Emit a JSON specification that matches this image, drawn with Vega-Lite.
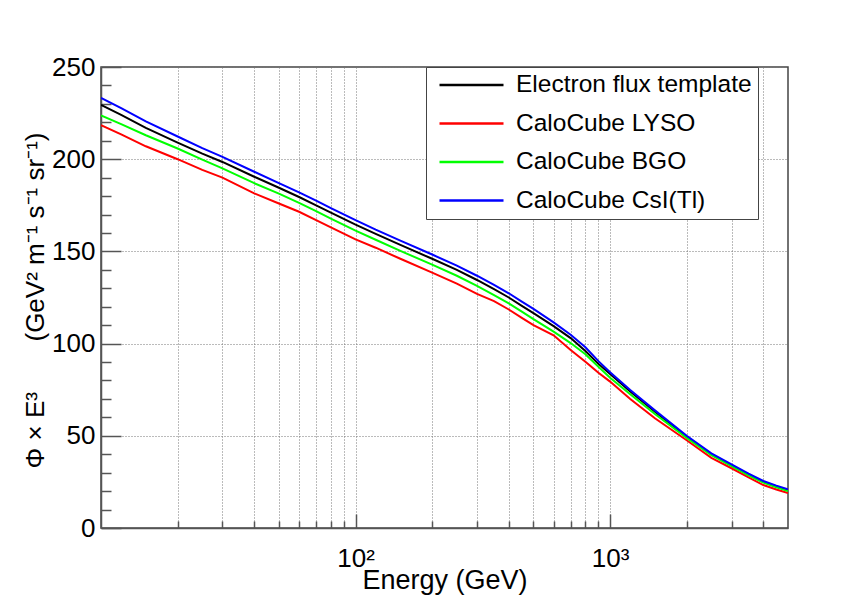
{
  "$schema": "https://vega.github.io/schema/vega-lite/v6.json",
  "width": 687,
  "height": 461,
  "autosize": {"type": "none"},
  "padding": {"left": 101, "top": 67, "right": 76, "bottom": 67},
  "background": "white",
  "datasets": {
    "flux": [
      {"E": 10, "flux": 229.5, "series": "Electron flux template"},
      {"E": 12, "flux": 224, "series": "Electron flux template"},
      {"E": 15, "flux": 217, "series": "Electron flux template"},
      {"E": 20, "flux": 209, "series": "Electron flux template"},
      {"E": 25, "flux": 203, "series": "Electron flux template"},
      {"E": 30, "flux": 198.5, "series": "Electron flux template"},
      {"E": 40, "flux": 190.5, "series": "Electron flux template"},
      {"E": 50, "flux": 184.5, "series": "Electron flux template"},
      {"E": 60, "flux": 179.5, "series": "Electron flux template"},
      {"E": 70, "flux": 175, "series": "Electron flux template"},
      {"E": 80, "flux": 171, "series": "Electron flux template"},
      {"E": 100, "flux": 164.5, "series": "Electron flux template"},
      {"E": 120, "flux": 159.5, "series": "Electron flux template"},
      {"E": 150, "flux": 153.5, "series": "Electron flux template"},
      {"E": 200, "flux": 146, "series": "Electron flux template"},
      {"E": 250, "flux": 140, "series": "Electron flux template"},
      {"E": 300, "flux": 134.5, "series": "Electron flux template"},
      {"E": 350, "flux": 129.5, "series": "Electron flux template"},
      {"E": 400, "flux": 125, "series": "Electron flux template"},
      {"E": 450, "flux": 120.5, "series": "Electron flux template"},
      {"E": 500, "flux": 116.5, "series": "Electron flux template"},
      {"E": 600, "flux": 109.5, "series": "Electron flux template"},
      {"E": 700, "flux": 103, "series": "Electron flux template"},
      {"E": 800, "flux": 96, "series": "Electron flux template"},
      {"E": 900, "flux": 89, "series": "Electron flux template"},
      {"E": 1000, "flux": 83.5, "series": "Electron flux template"},
      {"E": 1200, "flux": 74, "series": "Electron flux template"},
      {"E": 1500, "flux": 63, "series": "Electron flux template"},
      {"E": 2000, "flux": 49.5, "series": "Electron flux template"},
      {"E": 2500, "flux": 40, "series": "Electron flux template"},
      {"E": 3000, "flux": 34, "series": "Electron flux template"},
      {"E": 3500, "flux": 29, "series": "Electron flux template"},
      {"E": 4000, "flux": 25, "series": "Electron flux template"},
      {"E": 4500, "flux": 22.5, "series": "Electron flux template"},
      {"E": 5000, "flux": 20.5, "series": "Electron flux template"},

      {"E": 10, "flux": 218.4, "series": "CaloCube LYSO"},
      {"E": 12, "flux": 213.5, "series": "CaloCube LYSO"},
      {"E": 15, "flux": 207, "series": "CaloCube LYSO"},
      {"E": 20, "flux": 200, "series": "CaloCube LYSO"},
      {"E": 25, "flux": 194.2, "series": "CaloCube LYSO"},
      {"E": 30, "flux": 190, "series": "CaloCube LYSO"},
      {"E": 40, "flux": 181.5, "series": "CaloCube LYSO"},
      {"E": 50, "flux": 176, "series": "CaloCube LYSO"},
      {"E": 60, "flux": 171.5, "series": "CaloCube LYSO"},
      {"E": 70, "flux": 167, "series": "CaloCube LYSO"},
      {"E": 80, "flux": 163, "series": "CaloCube LYSO"},
      {"E": 100, "flux": 156.5, "series": "CaloCube LYSO"},
      {"E": 120, "flux": 152, "series": "CaloCube LYSO"},
      {"E": 150, "flux": 146, "series": "CaloCube LYSO"},
      {"E": 200, "flux": 138.5, "series": "CaloCube LYSO"},
      {"E": 250, "flux": 132.5, "series": "CaloCube LYSO"},
      {"E": 300, "flux": 127, "series": "CaloCube LYSO"},
      {"E": 350, "flux": 123, "series": "CaloCube LYSO"},
      {"E": 400, "flux": 118.5, "series": "CaloCube LYSO"},
      {"E": 450, "flux": 114, "series": "CaloCube LYSO"},
      {"E": 500, "flux": 110, "series": "CaloCube LYSO"},
      {"E": 600, "flux": 104.5, "series": "CaloCube LYSO"},
      {"E": 700, "flux": 96.5, "series": "CaloCube LYSO"},
      {"E": 800, "flux": 90.2, "series": "CaloCube LYSO"},
      {"E": 900, "flux": 84.2, "series": "CaloCube LYSO"},
      {"E": 1000, "flux": 79.4, "series": "CaloCube LYSO"},
      {"E": 1200, "flux": 70, "series": "CaloCube LYSO"},
      {"E": 1500, "flux": 59.5, "series": "CaloCube LYSO"},
      {"E": 2000, "flux": 47.6, "series": "CaloCube LYSO"},
      {"E": 2500, "flux": 38, "series": "CaloCube LYSO"},
      {"E": 3000, "flux": 32.4, "series": "CaloCube LYSO"},
      {"E": 3500, "flux": 27.4, "series": "CaloCube LYSO"},
      {"E": 4000, "flux": 23.3, "series": "CaloCube LYSO"},
      {"E": 4500, "flux": 20.9, "series": "CaloCube LYSO"},
      {"E": 5000, "flux": 18.9, "series": "CaloCube LYSO"},

      {"E": 10, "flux": 223.8, "series": "CaloCube BGO"},
      {"E": 12, "flux": 219, "series": "CaloCube BGO"},
      {"E": 15, "flux": 213, "series": "CaloCube BGO"},
      {"E": 20, "flux": 205.8, "series": "CaloCube BGO"},
      {"E": 25, "flux": 199.8, "series": "CaloCube BGO"},
      {"E": 30, "flux": 195, "series": "CaloCube BGO"},
      {"E": 40, "flux": 187, "series": "CaloCube BGO"},
      {"E": 50, "flux": 181.3, "series": "CaloCube BGO"},
      {"E": 60, "flux": 176.3, "series": "CaloCube BGO"},
      {"E": 70, "flux": 171.8, "series": "CaloCube BGO"},
      {"E": 80, "flux": 167.8, "series": "CaloCube BGO"},
      {"E": 100, "flux": 161.3, "series": "CaloCube BGO"},
      {"E": 120, "flux": 156.3, "series": "CaloCube BGO"},
      {"E": 150, "flux": 150.3, "series": "CaloCube BGO"},
      {"E": 200, "flux": 142.8, "series": "CaloCube BGO"},
      {"E": 250, "flux": 136.8, "series": "CaloCube BGO"},
      {"E": 300, "flux": 131.3, "series": "CaloCube BGO"},
      {"E": 350, "flux": 126.3, "series": "CaloCube BGO"},
      {"E": 400, "flux": 121.8, "series": "CaloCube BGO"},
      {"E": 450, "flux": 117.3, "series": "CaloCube BGO"},
      {"E": 500, "flux": 113.3, "series": "CaloCube BGO"},
      {"E": 600, "flux": 106.5, "series": "CaloCube BGO"},
      {"E": 700, "flux": 100.3, "series": "CaloCube BGO"},
      {"E": 800, "flux": 94.2, "series": "CaloCube BGO"},
      {"E": 900, "flux": 87.4, "series": "CaloCube BGO"},
      {"E": 1000, "flux": 81.5, "series": "CaloCube BGO"},
      {"E": 1200, "flux": 72.5, "series": "CaloCube BGO"},
      {"E": 1500, "flux": 61.8, "series": "CaloCube BGO"},
      {"E": 2000, "flux": 48.9, "series": "CaloCube BGO"},
      {"E": 2500, "flux": 39.5, "series": "CaloCube BGO"},
      {"E": 3000, "flux": 33.6, "series": "CaloCube BGO"},
      {"E": 3500, "flux": 28.6, "series": "CaloCube BGO"},
      {"E": 4000, "flux": 24.6, "series": "CaloCube BGO"},
      {"E": 4500, "flux": 22.1, "series": "CaloCube BGO"},
      {"E": 5000, "flux": 20.1, "series": "CaloCube BGO"},

      {"E": 10, "flux": 233.3, "series": "CaloCube CsI(Tl)"},
      {"E": 12, "flux": 227.7, "series": "CaloCube CsI(Tl)"},
      {"E": 15, "flux": 220.5, "series": "CaloCube CsI(Tl)"},
      {"E": 20, "flux": 212.3, "series": "CaloCube CsI(Tl)"},
      {"E": 25, "flux": 206, "series": "CaloCube CsI(Tl)"},
      {"E": 30, "flux": 201.3, "series": "CaloCube CsI(Tl)"},
      {"E": 40, "flux": 193.2, "series": "CaloCube CsI(Tl)"},
      {"E": 50, "flux": 187, "series": "CaloCube CsI(Tl)"},
      {"E": 60, "flux": 182, "series": "CaloCube CsI(Tl)"},
      {"E": 70, "flux": 177.5, "series": "CaloCube CsI(Tl)"},
      {"E": 80, "flux": 173.5, "series": "CaloCube CsI(Tl)"},
      {"E": 100, "flux": 167, "series": "CaloCube CsI(Tl)"},
      {"E": 120, "flux": 161.8, "series": "CaloCube CsI(Tl)"},
      {"E": 150, "flux": 155.8, "series": "CaloCube CsI(Tl)"},
      {"E": 200, "flux": 148.3, "series": "CaloCube CsI(Tl)"},
      {"E": 250, "flux": 142.3, "series": "CaloCube CsI(Tl)"},
      {"E": 300, "flux": 136.8, "series": "CaloCube CsI(Tl)"},
      {"E": 350, "flux": 131.8, "series": "CaloCube CsI(Tl)"},
      {"E": 400, "flux": 127.3, "series": "CaloCube CsI(Tl)"},
      {"E": 450, "flux": 122.8, "series": "CaloCube CsI(Tl)"},
      {"E": 500, "flux": 118.8, "series": "CaloCube CsI(Tl)"},
      {"E": 600, "flux": 111.5, "series": "CaloCube CsI(Tl)"},
      {"E": 700, "flux": 104.8, "series": "CaloCube CsI(Tl)"},
      {"E": 800, "flux": 98, "series": "CaloCube CsI(Tl)"},
      {"E": 900, "flux": 90.5, "series": "CaloCube CsI(Tl)"},
      {"E": 1000, "flux": 84.5, "series": "CaloCube CsI(Tl)"},
      {"E": 1200, "flux": 74.8, "series": "CaloCube CsI(Tl)"},
      {"E": 1500, "flux": 63.8, "series": "CaloCube CsI(Tl)"},
      {"E": 2000, "flux": 50, "series": "CaloCube CsI(Tl)"},
      {"E": 2500, "flux": 40.5, "series": "CaloCube CsI(Tl)"},
      {"E": 3000, "flux": 34.5, "series": "CaloCube CsI(Tl)"},
      {"E": 3500, "flux": 29.5, "series": "CaloCube CsI(Tl)"},
      {"E": 4000, "flux": 25.5, "series": "CaloCube CsI(Tl)"},
      {"E": 4500, "flux": 23, "series": "CaloCube CsI(Tl)"},
      {"E": 5000, "flux": 21, "series": "CaloCube CsI(Tl)"}
    ]
  },
  "data": {"name": "flux"},
  "mark": {"type": "line", "strokeWidth": 2, "clip": true},
  "encoding": {
    "x": {
      "field": "E",
      "type": "quantitative",
      "scale": {"type": "log", "domain": [10, 5000], "nice": false},
      "axis": {
        "title": "Energy (GeV)",
        "values": [20, 30, 40, 50, 60, 70, 80, 90, 100, 200, 300, 400, 500, 600, 700, 800, 900, 1000, 2000, 3000, 4000],
        "labelExpr": "datum.value == 100 ? '10²' : (datum.value == 1000 ? '10³' : '')",
        "tickSize": {"condition": {"test": "datum.value == 100 || datum.value == 1000", "value": -14}, "value": -7},
        "labelPadding": 31,
        "labelFontSize": 26,
        "labelOverlap": false,
        "labelFlush": false,
        "grid": true,
        "titleY": 60,
        "titleBaseline": "alphabetic",
        "titleFontSize": 27
      }
    },
    "y": {
      "field": "flux",
      "type": "quantitative",
      "scale": {"domain": [0, 250], "nice": false},
      "axis": {
        "title": "Φ × E³\u00a0\u00a0\u00a0\u00a0\u00a0\u00a0\u00a0(GeV² m⁻¹ s⁻¹ sr⁻¹)",
        "values": [0, 10, 20, 30, 40, 50, 60, 70, 80, 90, 100, 110, 120, 130, 140, 150, 160, 170, 180, 190, 200, 210, 220, 230, 240, 250],
        "labelExpr": "datum.value % 50 == 0 ? datum.label : ''",
        "tickSize": {"condition": {"test": "datum.value % 50 == 0", "value": -20}, "value": -10},
        "labelPadding": 26,
        "labelFontSize": 26,
        "labelOverlap": false,
        "labelFlush": false,
        "grid": true,
        "gridOpacity": {"condition": {"test": "datum.value % 50 == 0 && datum.value > 0", "value": 1}, "value": 0},
        "titleY": 233,
        "titleFontSize": 26,
        "titlePadding": 3
      }
    },
    "color": {
      "field": "series",
      "type": "nominal",
      "scale": {
        "domain": ["Electron flux template", "CaloCube LYSO", "CaloCube BGO", "CaloCube CsI(Tl)"],
        "range": ["#000000", "#ff0000", "#00ff00", "#0000ff"]
      },
      "legend": {
        "title": null,
        "orient": "none",
        "legendX": 325,
        "legendY": 0,
        "labelFontSize": 24.5,
        "labelExpr": "datum.label + '\u00a0\u00a0\u00a0\u00a0'",
        "symbolType": "stroke",
        "symbolSize": 4096,
        "symbolStrokeWidth": 2.5,
        "symbolOffset": 6,
        "clipHeight": 24,
        "padding": 6,
        "rowPadding": 13.5,
        "labelOffset": 11,
        "strokeColor": "#444",
        "fillColor": "white",
        "labelLimit": 400,
        "zindex": 1
      }
    }
  },
  "config": {
    "font": "Liberation Sans",
    "view": {"stroke": "#444", "strokeWidth": 1.5},
    "axis": {
      "domainColor": "#555",
      "domainWidth": 1.5,
      "tickColor": "#555",
      "tickWidth": 1.5,
      "gridColor": "#777",
      "gridDash": [1, 2],
      "gridWidth": 1,
      "labelFont": "Liberation Sans",
      "titleFont": "Liberation Sans",
      "labelFontSize": 24,
      "labelColor": "#000",
      "titleFontSize": 24,
      "titleFontWeight": "normal",
      "titleColor": "#000"
    },
    "legend": {"labelFont": "Liberation Sans", "labelColor": "#000"}
  }
}
